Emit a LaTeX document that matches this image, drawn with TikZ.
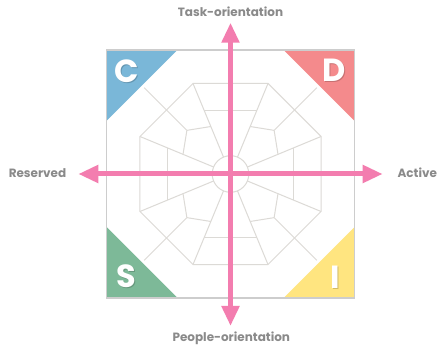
\documentclass[tikz,border=0pt]{standalone}
\usepackage{fontspec}
\setmainfont{Poppins}
\usetikzlibrary{arrows.meta}
\definecolor{gridc}{RGB}{220,218,214}
\definecolor{boxc}{RGB}{205,205,205}
\definecolor{axisc}{RGB}{243,125,175}
\definecolor{labc}{RGB}{138,138,138}
\definecolor{cblue}{RGB}{122,183,216}
\definecolor{dred}{RGB}{244,138,140}
\definecolor{sgreen}{RGB}{125,185,152}
\definecolor{iyellow}{RGB}{255,229,128}
\begin{document}
\begin{tikzpicture}[x=1pt,y=1pt,
  gridline/.style={draw=gridc,line width=1pt},
  axis/.style={draw=axisc,line width=5pt,{Triangle[length=20pt,width=17pt]}-{Triangle[length=20pt,width=17pt]}},
  lab/.style={text=labc,font=\bfseries\fontsize{12}{14}\selectfont,inner sep=0pt,anchor=base},
  letterfont/.style={font=\bfseries\fontsize{32}{34}\selectfont,inner sep=0pt},
  letter/.style={letterfont,text=white},
  lettershadow/.style={letterfont,text=black,text opacity=0.18}]
\useasboundingbox (0,0) rectangle (438,347);
\fill[white] (0,0) rectangle (438,347);
\begin{scope}[shift={(230.5,173)}]
  % wheel
  \draw[gridline] (22.5:98) \foreach \a in {67.5,112.5,...,337.5}{-- (\a:98)} -- cycle;
  \foreach \a in {22.5,67.5,...,337.5} \draw[gridline] (\a:98) -- (\a:18.3);
  \draw[gridline] (0,0) circle (18.3);
  \foreach \a in {0,90,180,270} \draw[gridline] (\a-22.5:68.7) -- (\a+22.5:68.7);
  \foreach \a in {45,135,225,315} \draw[gridline] (\a:122) -- (\a:61.7) -- (\a+22.5:51.4) (\a:61.7) -- (\a-22.5:51.4);
  % corner triangles
  \fill[cblue] (-124,124) -- (-53,124) -- (-124,53) -- cycle;
  \fill[dred] (124,124) -- (53,124) -- (124,53) -- cycle;
  \fill[sgreen] (-124,-124) -- (-53,-124) -- (-124,-53) -- cycle;
  \fill[iyellow] (124,-124) -- (53,-124) -- (124,-53) -- cycle;
  \draw[boxc,line width=1.3pt] (-124,-124) rectangle (124,124);
  \node[lettershadow] (lcs) at (-103,101.5) {C};
  \node[lettershadow] (lds) at (105,103) {D};
  \node[lettershadow] (lss) at (-103,-103) {S};
  \node[lettershadow] (lis) at (105.5,-104) {I};
  \node[letter] (lc) at (-104,102.5) {C};
  \node[letter] (ld) at (104,104) {D};
  \node[letter] (ls) at (-104,-102) {S};
  \node[letter] (li) at (104.5,-103) {I};
\end{scope}
\coordinate (up) at (230.5,324.3);
\coordinate (down) at (230.5,21);
\coordinate (left) at (78.3,173);
\coordinate (right) at (382.7,173);
\draw[axis] (down) -- (up);
\draw[axis] (left) -- (right);
\node[lab] (task) at (230.5,330.3) {Task-orientation};
\node[lab] (people) at (231.3,5.3) {People-orientation};
\node[lab] (reserved) at (37.5,169.3) {Reserved};
\node[lab] (active) at (417.3,169.3) {Active};
\end{tikzpicture}
\end{document}
